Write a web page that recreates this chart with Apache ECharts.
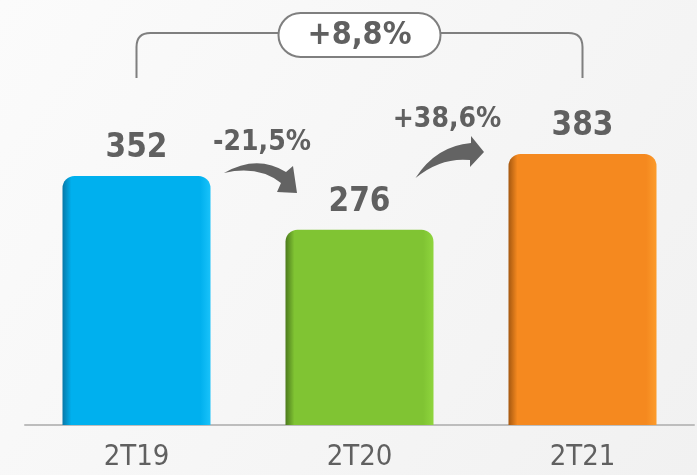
<!DOCTYPE html>
<html>
<head>
<meta charset="utf-8">
<script src="https://cdn.jsdelivr.net/npm/echarts@6/dist/echarts.min.js"></script>
<style>
  html, body { margin: 0; padding: 0; }
  #chart { width: 697px; height: 475px; }
</style>
</head>
<body>
<div id="chart"></div>
<script>
const categories = ['2T19', '2T20', '2T21']
const values = [352, 276, 383]
const changes = ['-21,5%', '+38,6%']
const totalChange = '+8,8%'

// base, left edge (shade), right edge (highlight)
const barColors = [
  ['#00b0ee', '#0878a8', '#19c2fa'],
  ['#80c433', '#4c7a1c', '#8fd53d'],
  ['#f5891f', '#a55810', '#fc9b2b']
]

const FONT = '"DejaVu Sans Condensed", "DejaVu Sans", sans-serif'
const grey = '#606060'

const chart = echarts.init(document.getElementById('chart'))

function barStyle (c) {
  return {
    borderRadius: [12, 12, 0, 0],
    color: {
      type: 'linear', x: 0, y: 0, x2: 1, y2: 0,
      colorStops: [
        { offset: 0, color: c[1] },
        { offset: 0.06, color: c[0] },
        { offset: 0.93, color: c[0] },
        { offset: 1, color: c[2] }
      ]
    }
  }
}

const option = {
  backgroundColor: {
    type: 'linear', x: 0, y: 0, x2: 1, y2: 1,
    colorStops: [
      { offset: 0, color: '#fbfbfb' },
      { offset: 1, color: '#f1f1f1' }
    ]
  },
  animation: false,
  grid: { left: 25, right: 3, top: 50, bottom: 50 },
  xAxis: {
    type: 'category',
    data: categories,
    axisTick: { show: false },
    axisLine: { lineStyle: { color: '#bdbdbd', width: 2 } },
    axisLabel: { color: grey, fontFamily: FONT, fontSize: 29, margin: 18 }
  },
  yAxis: {
    type: 'value',
    min: 0,
    max: 530,
    show: false,
    splitLine: { show: false }
  },
  series: [{
    type: 'bar',
    barWidth: 148,
    data: values.map((v, i) => ({ value: v, itemStyle: barStyle(barColors[i]) })),
    label: {
      show: true,
      position: 'top',
      distance: 11,
      color: grey,
      fontFamily: FONT,
      fontWeight: 'bold',
      fontSize: 33
    }
  }]
}

chart.setOption(option)

// annotations placed from the axis pixel positions
function drawNotes () {
  const px = categories.map(c => chart.convertToPixel({ xAxisIndex: 0 }, c))
  const m1 = (px[0] + px[1]) / 2
  const m2 = (px[1] + px[2]) / 2
  const f = (pts, ox) => pts.replace(/(-?\d+(?:\.\d+)?),(-?\d+(?:\.\d+)?)/g,
    (s, a, b) => (ox + Number(a)) + ',' + b)
  const arrow1 = f('M-24,173 Q9,154 38,172 L45,166 L49,193 L29,192 L33,183 Q10,165 -24,173 Z', m1)
  const arrow2 = f('M-55.5,178 Q-35,146 0,143 L0,136 L13,152 L-1,167 L-1,160 Q-30,157 -55.5,178 Z', m2)

  const L = px[0]
  const R = px[2]
  const C = px[1]
  const bracket = `M${L},78 L${L},47 Q${L},33 ${L + 14},33 L${R - 14},33 Q${R},33 ${R},47 L${R},78`

  echarts.graphic.registerShape('arrowA', echarts.graphic.extendPath(arrow1, {}))
  echarts.graphic.registerShape('arrowB', echarts.graphic.extendPath(arrow2, {}))
  echarts.graphic.registerShape('bracket', echarts.graphic.extendPath(bracket, {}))

  const txt = (x, y, s, size) => ({
    type: 'text', x: x, y: y,
    style: {
      text: s, fill: grey, font: `bold ${size}px ${FONT}`,
      textAlign: 'center', textVerticalAlign: 'middle'
    }
  })

  chart.setOption({
    graphic: [
      { type: 'arrowA', style: { fill: '#636363' } },
      { type: 'arrowB', style: { fill: '#636363' } },
      { type: 'bracket', style: { fill: null, stroke: '#7f7f7f', lineWidth: 2 } },
      {
        type: 'rect',
        shape: { x: C - 81, y: 13, width: 162, height: 44, r: 22 },
        style: { fill: '#ffffff', stroke: '#7f7f7f', lineWidth: 2 }
      },
      txt(C, 36, totalChange, 32),
      txt(m1 + 14, 143, changes[0], 28),
      txt(m2 - 24, 120, changes[1], 28)
    ]
  })
}

drawNotes()
</script>
</body>
</html>
